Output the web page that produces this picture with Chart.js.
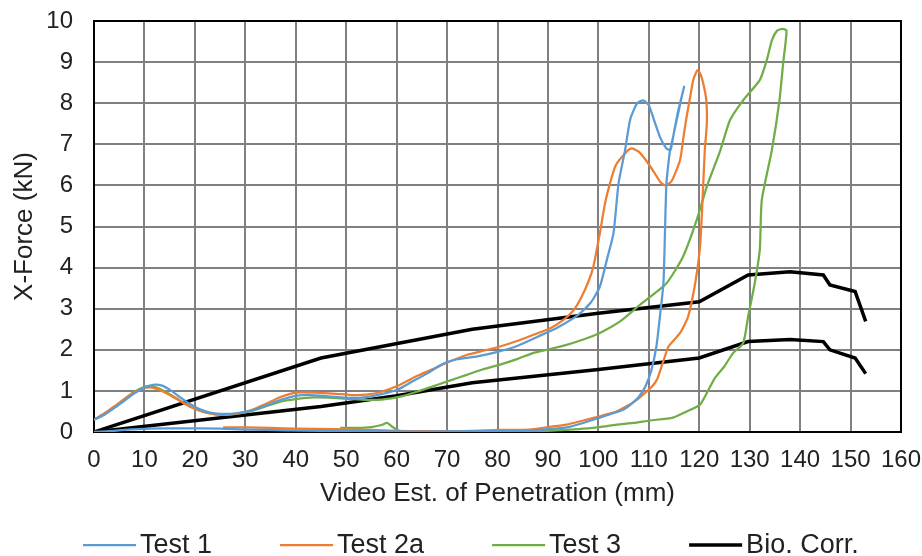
<!DOCTYPE html>
<html>
<head>
<meta charset="utf-8">
<title>X-Force vs Video Est. of Penetration</title>
<script src="https://cdn.jsdelivr.net/npm/chart.js@4/dist/chart.umd.min.js"></script>
<style>
  html, body { margin: 0; padding: 0; background: #ffffff; }
  #wrap { width: 922px; height: 556px; }
</style>
</head>
<body>
<div id="wrap"><canvas id="chart" width="922" height="556"></canvas></div>
<script>
// Series labels and colours
const seriesLabels = ['Test 1', 'Test 2a', 'Test 3', 'Bio. Corr.'];
const seriesColors = ['#5B9BD5', '#ED7D31', '#70AD47', '#000000'];

// Axis ranges (mm, kN)
const xRange = [0, 160, 10];
const yRange = [0, 10, 1];

// Test 1: [penetration mm, force kN], loading then unloading
const test1 = [
  [0,0.30],[2,0.42],[4,0.58],[6,0.76],[8,0.94],[10,1.08],[12,1.15],[13.5,1.13],[15,1.03],
  [17,0.85],[19,0.68],[21,0.55],[23,0.47],[25,0.44],[28,0.45],[31,0.52],[34,0.64],[37,0.78],
  [40,0.88],[43,0.90],[46,0.87],[50,0.83],[54,0.85],[57,0.92],[60,1.02],[63,1.22],[66,1.42],
  [69,1.65],[72,1.77],[76,1.84],[80,1.95],[84,2.10],[88,2.32],[92,2.55],[96,2.85],[98.5,3.15],
  [100.3,3.54],[101.7,4.2],[103,4.84],[104,6.05],[105.3,6.86],[106.3,7.6],[107.7,8.0],[108.9,8.07],
  [110,7.95],[111,7.6],[112.3,7.15],[113.5,6.9],[114.3,6.86],[115,7.3],[115.8,7.8],[116.5,8.15],
  [117,8.4],[116.6,8.2],[115.9,7.8],[115.1,7.35],[114.4,6.95],[114.2,6.86],[113.5,6.05],
  [113.2,4.84],[112.9,3.62],[112.2,2.81],[111.5,2.08],[110.5,1.5],[109.3,1.1],[108,0.85],
  [106.5,0.68],[104.9,0.54],[102.5,0.44],[100.3,0.35],[97,0.22],[94,0.12],[90,0.07],[85,0.03],
  [75,0.02],[65,0.01],[55,0.02],[45,0.03],[38,0.04],[30,0.06],[25,0.08],[18,0.09],[11,0.08],
  [6,0.05],[3,0.02],[0,0]
];

// Test 2a
const test2a = [
  [0,0.30],[2,0.45],[4,0.62],[6,0.80],[8,0.97],[10,1.07],[11.5,1.08],[13,1.02],[15,0.90],
  [17,0.76],[19,0.62],[21,0.52],[23,0.45],[25,0.42],[28,0.44],[31,0.52],[34,0.68],[37,0.85],
  [40,0.96],[44,0.96],[48,0.93],[51,0.90],[54,0.91],[57,0.98],[60.7,1.15],[64,1.36],[67.2,1.53],
  [70.6,1.72],[74,1.88],[77,1.97],[80.5,2.08],[84,2.22],[87,2.36],[90.4,2.52],[93,2.72],[95,2.95],
  [96.5,3.25],[98,3.65],[99,4.02],[100.3,4.84],[101.3,5.55],[102.3,6.05],[103.5,6.5],[105.6,6.82],
  [106.6,6.9],[108,6.82],[109.5,6.6],[111,6.33],[112.3,6.08],[113.3,6.0],[114.5,6.1],[116.2,6.62],
  [116.9,7.2],[117.5,7.67],[118.2,8.15],[118.8,8.56],[119.6,8.8],[120.2,8.72],[120.8,8.48],
  [121.4,8.07],[121.5,7.5],[121.1,6.86],[120.5,5.24],[120.1,4.43],[119.2,3.62],[117.8,2.81],
  [116.2,2.41],[113.9,2.08],[113.2,1.84],[112.4,1.55],[111.6,1.27],[110.6,1.1],[109.6,0.99],
  [108.3,0.85],[106.9,0.72],[105.2,0.6],[103.6,0.50],[102,0.44],[100.3,0.38],[97,0.28],
  [93.7,0.18],[90,0.12],[86.4,0.06],[80.5,0.05],[75,0.03],[70,0.02],[65,0.02],[60,0.03],
  [55,0.05],[48,0.07],[40,0.08],[35,0.10],[30,0.11],[25.6,0.11]
];

// Test 3
const test3 = [
  [0,0.30],[2,0.42],[4,0.60],[6,0.80],[8,0.98],[10,1.10],[11.5,1.11],[13,1.05],[15,0.92],
  [17,0.77],[19,0.62],[21,0.52],[23,0.45],[25,0.42],[28,0.44],[31,0.50],[34,0.62],[37,0.74],
  [40,0.80],[43.5,0.84],[47.4,0.83],[51,0.80],[54,0.78],[57,0.79],[60.7,0.86],[64,0.98],
  [67.2,1.11],[70.5,1.25],[73.9,1.39],[77,1.52],[80.5,1.64],[84,1.78],[87,1.92],[90.4,2.02],
  [93.7,2.12],[97,2.25],[100.3,2.41],[104.3,2.69],[108.2,3.09],[113.5,3.62],[116.8,4.27],
  [119.5,5.16],[121.5,5.97],[124.2,6.86],[126.1,7.59],[128.7,8.07],[132,8.56],[133.4,9.05],
  [134.4,9.53],[135.4,9.76],[136.5,9.81],[137.3,9.77],[136.7,9.05],[135.9,8.07],[134.4,6.86],
  [132.4,5.64],[132,4.43],[131,3.62],[129.7,2.81],[128.7,2.16],[126.7,1.92],[125,1.6],
  [123.1,1.31],[121.5,0.95],[120.1,0.66],[117.5,0.5],[114.8,0.35],[110.2,0.28],[106.9,0.22],
  [103.6,0.18],[100.3,0.12],[97,0.08],[93.7,0.05],[88,0.02],[80,0.01],[70,0.01],[61,0.01],
  [60,0.06],[59,0.14],[58.1,0.22],[57,0.17],[55,0.12],[52,0.10],[48.8,0.10]
];

// Biofidelity corridor, upper and lower bounds
const bioUpper = [
  [0,0],[45,1.8],[75,2.5],[100,2.89],[120,3.17],[129.7,3.82],[138,3.9],[144.6,3.82],
  [145.9,3.58],[150.9,3.42],[153,2.69]
];
const bioLower = [
  [0,0],[45,0.62],[60,0.88],[75,1.2],[100,1.52],[120,1.8],[129.7,2.2],[138,2.25],[144.6,2.2],
  [145.9,2.0],[150.9,1.8],[153,1.42]
];

const toXY = pts => pts.map(p => ({ x: p[0], y: p[1] }));
const TEXT = '#222222';
const FONT = "'Liberation Sans', Arial, sans-serif";

function lineSet(label, pts, color, width, tension, inLegend) {
  return {
    label, data: toXY(pts), showLine: true, borderColor: color, backgroundColor: color,
    borderWidth: width, pointRadius: 0, pointHoverRadius: 0, tension, fill: false,
    inLegend
  };
}

// Black frame round the plot area, drawn under the data lines
const framePlugin = {
  id: 'plotFrame',
  beforeDatasetsDraw(chart) {
    const { ctx, chartArea: a } = chart;
    ctx.save();
    ctx.strokeStyle = '#000';
    ctx.lineWidth = 2;
    ctx.strokeRect(a.left, a.top, a.right - a.left, a.bottom - a.top);
    ctx.restore();
  }
};

// Legend row beneath the axis title: line sample then label
const legendPlugin = {
  id: 'rowLegend',
  afterDraw(chart) {
    const { ctx } = chart;
    const y = 545;
    let x = 83;
    ctx.save();
    ctx.font = '27px ' + FONT;
    ctx.textBaseline = 'middle';
    ctx.fillStyle = TEXT;
    chart.data.datasets.filter(d => d.inLegend).forEach(d => {
      ctx.beginPath();
      ctx.strokeStyle = d.borderColor;
      ctx.lineWidth = d.borderWidth;
      ctx.moveTo(x, y);
      ctx.lineTo(x + 53, y);
      ctx.stroke();
      ctx.fillText(d.label, x + 57, y + 1);
      x += 57 + ctx.measureText(d.label).width + 68;
    });
    ctx.restore();
  }
};

new Chart(document.getElementById('chart'), {
  type: 'scatter',
  data: {
    datasets: [
      lineSet(seriesLabels[0], test1, seriesColors[0], 2.25, 0.2, true),
      lineSet(seriesLabels[1], test2a, seriesColors[1], 2.25, 0.2, true),
      lineSet(seriesLabels[2], test3, seriesColors[2], 2.25, 0.2, true),
      lineSet(seriesLabels[3], bioUpper, seriesColors[3], 3.5, 0, true),
      lineSet(seriesLabels[3], bioLower, seriesColors[3], 3.5, 0, false)
    ]
  },
  options: {
    responsive: false,
    animation: false,
    devicePixelRatio: 1,
    layout: { padding: { left: 5, top: 21, right: 21, bottom: 43 } },
    plugins: { legend: { display: false }, tooltip: { enabled: false } },
    scales: {
      x: {
        type: 'linear', min: xRange[0], max: xRange[1],
        ticks: { stepSize: xRange[2], padding: 14, color: TEXT, font: { family: FONT, size: 24 }, maxRotation: 0 },
        grid: { color: '#808080', lineWidth: 2, drawTicks: false },
        border: { display: true, color: '#000', width: 2 },
        title: { display: true, text: 'Video Est. of Penetration (mm)', color: TEXT, font: { family: FONT, size: 26 }, padding: { top: 4, bottom: 4 } },
        afterFit(scale) { scale.height = 81; scale.paddingLeft = 0; scale.paddingRight = 0; }
      },
      y: {
        type: 'linear', min: yRange[0], max: yRange[1],
        ticks: { stepSize: yRange[2], padding: 21, color: TEXT, font: { family: FONT, size: 24 } },
        grid: { color: '#808080', lineWidth: 2, drawTicks: false },
        border: { display: true, color: '#000', width: 2 },
        title: { display: true, text: 'X-Force (kN)', color: TEXT, font: { family: FONT, size: 26 }, padding: { top: 4, bottom: 4 } },
        afterFit(scale) { scale.width = 89; scale.paddingTop = 0; scale.paddingBottom = 0; }
      }
    }
  },
  plugins: [framePlugin, legendPlugin]
});
</script>
</body>
</html>
